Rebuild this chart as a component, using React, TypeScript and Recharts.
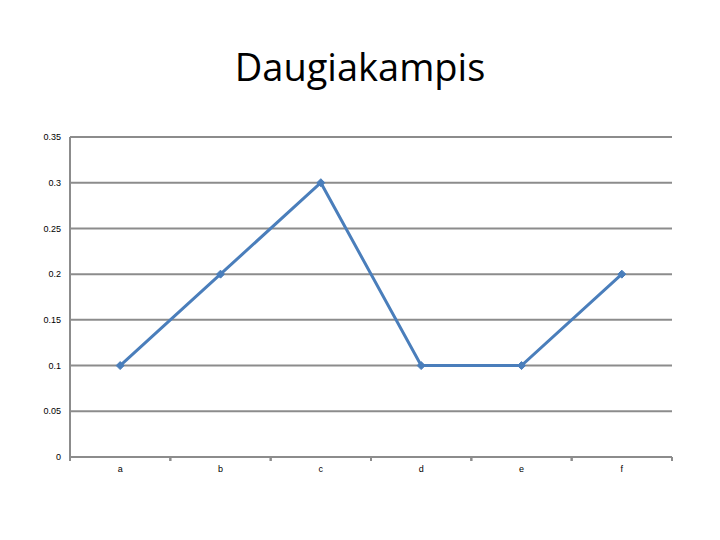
import { LineChart, Line, XAxis, YAxis, CartesianGrid } from 'recharts';

const categories = ['a', 'b', 'c', 'd', 'e', 'f'];
const values = [0.1, 0.2, 0.3, 0.1, 0.1, 0.2];
const yTicks = [0, 0.05, 0.1, 0.15, 0.2, 0.25, 0.3, 0.35];

const data = categories.map((name, i) => ({ name, value: values[i] }));

const PLOT_LEFT = 70;
const PLOT_RIGHT = 672;
const BAND = (PLOT_RIGHT - PLOT_LEFT) / categories.length;

const Diamond = ({ cx, cy }: any) => {
  if (cx == null || cy == null) return null;
  const r = 4;
  return (
    <polygon
      points={`${cx},${cy - r} ${cx + r},${cy} ${cx},${cy + r} ${cx - r},${cy}`}
      fill="#4A7EBB"
      stroke="#4A7EBB"
    />
  );
};

const XTick = ({ x, y, payload }: any) => (
  <g>
    <line x1={x - BAND / 2} y1={y} x2={x - BAND / 2} y2={y + 4} stroke="#8c8c8c" strokeWidth={2} />
    <line x1={x + BAND / 2} y1={y} x2={x + BAND / 2} y2={y + 4} stroke="#8c8c8c" strokeWidth={2} />
    <text x={x} y={y + 15} textAnchor="middle" fontSize={9} fill="#000">
      {payload.value}
    </text>
  </g>
);

export default function App() {
  return (
    <div
      style={{
        position: 'fixed',
        left: 0,
        top: 0,
        width: 720,
        height: 540,
        background: '#fff',
        fontFamily: '"Liberation Sans", sans-serif',
      }}
    >
      <div
        style={{
          position: 'absolute',
          top: 40,
          width: 720,
          textAlign: 'center',
          fontSize: 38,
          fontFamily: '"Open Sans", sans-serif',
          letterSpacing: 0,
        }}
      >
        Daugiakampis
      </div>
      <LineChart
        width={720}
        height={540}
        data={data}
        margin={{ top: 137, right: 720 - PLOT_RIGHT, bottom: 53, left: 10 }}
      >
        <CartesianGrid vertical={false} stroke="#8c8c8c" strokeWidth={2} />
        <XAxis
          dataKey="name"
          axisLine={{ stroke: '#8c8c8c', strokeWidth: 2 }}
          tickLine={false}
          tickSize={0}
          tickMargin={0}
          padding={{ left: BAND / 2, right: BAND / 2 }}
          tick={<XTick />}
          interval={0}
        />
        <YAxis
          width={60}
          domain={[0, 0.35]}
          ticks={yTicks}
          interval={0}
          axisLine={{ stroke: '#8c8c8c', strokeWidth: 2 }}
          tickLine={false}
          tickSize={0}
          tickMargin={9}
          tick={{ fontSize: 9, fill: '#000' }}
        />
        <Line
          dataKey="value"
          stroke="#4A7EBB"
          strokeWidth={3}
          dot={<Diamond />}
          activeDot={false}
          isAnimationActive={false}
        />
      </LineChart>
    </div>
  );
}
